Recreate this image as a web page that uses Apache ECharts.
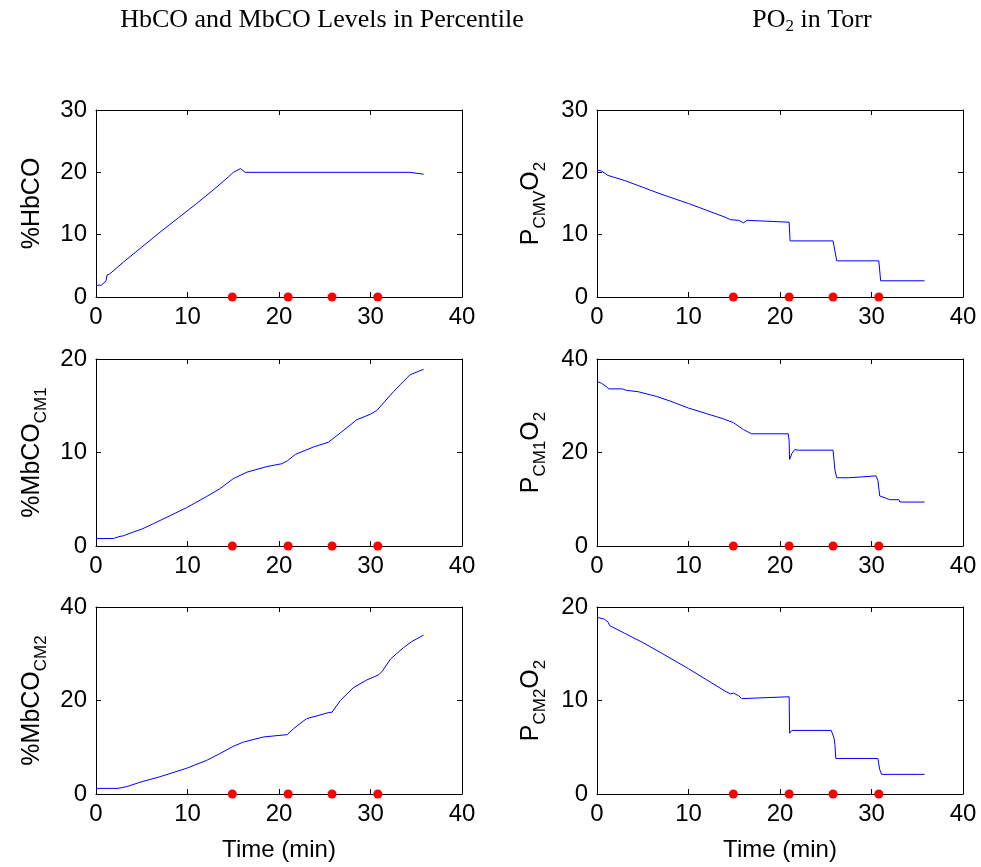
<!DOCTYPE html>
<html>
<head>
<meta charset="utf-8">
<script src="https://cdn.jsdelivr.net/npm/echarts@6/dist/echarts.min.js"></script>
<style>
html,body{margin:0;padding:0;background:#fff;}
#chart{width:981px;height:867px;}
</style>
</head>
<body>
<div id="chart"></div>
<script>
// ---------- data (time in min, value) ----------
const eventTimes = [14.9, 21.0, 25.8, 30.8];

const hbco = [[0,1.9],[0.6,1.9],[1.1,2.6],[1.2,3.5],[1.5,3.7],[3,5.6],[5,8.0],[7,10.4],[9,12.7],[11,15.0],[13,17.4],[14.5,19.3],[15,20.0],[15.8,20.6],[16.3,20.0],[34.3,20.0],[34.5,19.7],[35.8,19.7]];

const pcmvO2 = [[0,20.4],[0.5,20.2],[1.2,19.5],[3,18.7],[5,17.6],[7,16.5],[10,15.0],[12,13.9],[14,12.8],[14.6,12.4],[15.5,12.3],[16,11.9],[16.4,12.3],[16.6,12.0],[21.0,12.0],[21.1,9.0],[25.8,9.0],[26.2,5.8],[30.8,5.8],[31.0,2.6],[35.8,2.6]];

const mbcoCM1 = [[0,0.8],[1.9,0.8],[2.5,1.0],[3,1.1],[4.1,1.5],[5,1.8],[6.3,2.4],[8,3.2],[9.9,4.1],[12.1,5.3],[13.5,6.1],[15,7.2],[16.5,7.9],[18.7,8.5],[20.3,8.8],[20.9,9.1],[21.8,9.8],[23.8,10.6],[25.4,11.1],[25.6,11.1],[27.1,12.4],[28.5,13.5],[30,14.1],[30.7,14.5],[31.6,15.5],[32.5,16.5],[33.3,17.3],[34.3,18.3],[35.8,18.9]];

const pcm1O2 = [[0,35.2],[0.5,34.8],[1.0,34.1],[1.3,33.6],[2.8,33.6],[3.2,33.3],[4.5,33.0],[6.5,32.0],[8,31.0],[10,29.5],[12,28.3],[13.8,27.2],[14.9,26.4],[16.0,24.9],[16.9,24.0],[20.9,24.0],[21.0,22.5],[21.05,18.5],[21.3,19.8],[21.6,20.6],[22,20.5],[25.8,20.5],[26.0,16.3],[26.2,14.6],[27.6,14.6],[27.8,15.0],[30.5,15.0],[30.7,14.0],[30.9,10.7],[31.5,10.3],[32,9.9],[33.0,9.9],[33.1,9.4],[35.8,9.4]];

const mbcoCM2 = [[0,1.2],[2.4,1.2],[2.6,1.5],[3.4,1.6],[4.8,2.5],[7,3.7],[9.9,5.5],[12.1,7.2],[13.5,8.6],[15,10.2],[16.1,11.1],[18.3,12.2],[20.9,12.7],[21.6,14.0],[23,16.1],[25.4,17.4],[25.8,17.5],[26.7,20.0],[28.1,22.7],[29.6,24.4],[30.9,25.5],[31.3,26.3],[32.2,28.9],[33.6,31.3],[34.5,32.6],[35.8,34.0]];

const pcm2O2 = [[0,18.9],[0.8,18.7],[1.2,18.4],[1.4,18.0],[3,17.2],[5,16.2],[7,15.1],[10,13.4],[12,12.2],[14,11.0],[14.6,10.7],[14.9,10.8],[15.5,10.5],[15.8,10.2],[16.0,10.4],[21.0,10.4],[21.05,6.5],[21.3,6.8],[25.6,6.8],[25.9,6.0],[26.0,5.3],[26.1,3.8],[30.7,3.8],[30.9,2.6],[31.1,2.1],[35.8,2.1]];

const yMax = [30, 30, 20, 40, 40, 20];
const yInterval = [10, 10, 10, 20, 20, 10];
const xMax = 40;
const xInterval = 10;
const yNames = ['%HbCO', 'P{s|CMV}O{s|2}', '%MbCO{s|CM1}', 'P{s|CM1}O{s|2}', '%MbCO{s|CM2}', 'P{s|CM2}O{s|2}'];
const seriesData = [hbco, pcmvO2, mbcoCM1, pcm1O2, mbcoCM2, pcm2O2];
const titles = ['HbCO and MbCO Levels in Percentile', 'PO{s|2} in Torr'];
const xName = 'Time (min)';

// ---------- layout ----------
const SANS = 'Liberation Sans, Arial, Helvetica, sans-serif';
const SERIF = 'Liberation Serif, Times New Roman, serif';
const colLeft = [96, 597];
const rowTop = [110, 359, 607];
const gw = 366, gh = 187;

const grids = [], xAxes = [], yAxes = [], series = [];
const axisLine = {show: true, onZero: false, lineStyle: {color: '#000', width: 1}};
const tick = {show: true, inside: true, length: 5, lineStyle: {color: '#000', width: 1}};
const rich = {
  s: {fontSize: 17, fontFamily: SANS, lineHeight: 17, verticalAlign: 'bottom', color: '#000'}
};

for (let i = 0; i < 6; i++) {
  const r = Math.floor(i / 2), c = i % 2;
  grids.push({left: colLeft[c], top: rowTop[r], width: gw, height: gh, show: false, containLabel: false});
  // main x (bottom)
  xAxes.push({
    gridIndex: i, type: 'value', min: 0, max: xMax, interval: xInterval, position: 'bottom',
    axisLine, axisTick: tick, splitLine: {show: false},
    axisLabel: {fontSize: 24, fontFamily: SANS, color: '#000', margin: 8},
    name: r === 2 ? xName : '', nameLocation: 'middle', nameGap: 44,
    nameTextStyle: {fontSize: 24, fontFamily: SANS, color: '#000'}
  });
  // mirror x (top)
  xAxes.push({
    gridIndex: i, type: 'value', min: 0, max: xMax, interval: xInterval, position: 'top',
    axisLine, axisTick: tick, splitLine: {show: false}, axisLabel: {show: false}
  });
  // main y (left)
  yAxes.push({
    gridIndex: i, type: 'value', min: 0, max: yMax[i], interval: yInterval[i], position: 'left',
    axisLine, axisTick: tick, splitLine: {show: false},
    axisLabel: {fontSize: 24, fontFamily: SANS, color: '#000', margin: 9},
    name: yNames[i], nameLocation: 'middle', nameGap: c === 0 ? 46 : 48,
    nameTextStyle: {fontSize: 25, fontFamily: SANS, color: '#000', lineHeight: 36, rich}
  });
  // mirror y (right)
  yAxes.push({
    gridIndex: i, type: 'value', min: 0, max: yMax[i], interval: yInterval[i], position: 'right',
    axisLine, axisTick: tick, splitLine: {show: false}, axisLabel: {show: false}
  });
  series.push({
    type: 'line', xAxisIndex: 2 * i, yAxisIndex: 2 * i, data: seriesData[i],
    showSymbol: false, symbol: 'none', lineStyle: {color: '#0000ff', width: 1}, z: 3, silent: true
  });
  series.push({
    type: 'scatter', xAxisIndex: 2 * i, yAxisIndex: 2 * i,
    data: eventTimes.map(t => [t, 0]), symbol: 'circle', symbolSize: 9,
    itemStyle: {color: '#ff0000', opacity: 1}, clip: false, z: 4, silent: true
  });
}

const chart = echarts.init(document.getElementById('chart'), null, {renderer: 'canvas'});
chart.setOption({
  animation: false,
  backgroundColor: '#fff',
  grid: grids, xAxis: xAxes, yAxis: yAxes, series,
  graphic: [
    {type: 'text', x: 322, y: 20, style: {text: titles[0], fontSize: 26, fontFamily: SERIF, fill: '#000', textAlign: 'center', textVerticalAlign: 'middle'}},
    {type: 'text', x: 812, y: 20, style: {text: titles[1], fontSize: 26, fontFamily: SERIF, fill: '#000', textAlign: 'center', textVerticalAlign: 'middle', lineHeight: 30,
      rich: {s: {fontSize: 17, fontFamily: SERIF, verticalAlign: 'bottom', lineHeight: 17, fill: '#000'}}}}
  ]
});
</script>
</body>
</html>
